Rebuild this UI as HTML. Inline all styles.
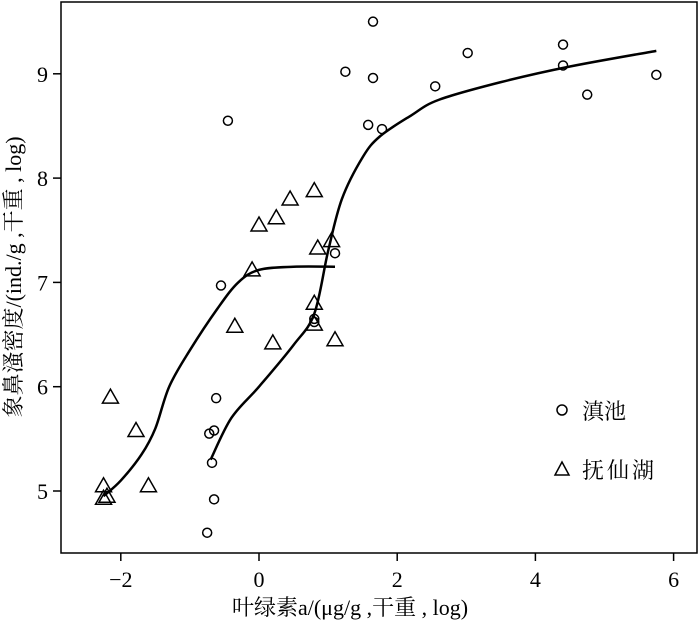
<!DOCTYPE html>
<html><head><meta charset="utf-8"><style>
body{margin:0;background:#fff}
svg text{font-family:"Liberation Serif","Noto Serif CJK SC",serif;fill:#000}
</style></head><body>
<svg width="700" height="625" viewBox="0 0 700 625" xmlns="http://www.w3.org/2000/svg">
<rect x="61" y="2" width="636" height="551" fill="none" stroke="#000" stroke-width="1.5"/>
<g id="axes"></g>
<g id="marks"></g>
<text x="350" y="615" font-size="22" text-anchor="middle">叶绿素a/(μg/g ,干重 , log)</text>
<text transform="translate(21,277) rotate(-90)" font-size="22" text-anchor="middle">象鼻溞密度/(ind./g ,干重 , log)</text>
<g>
<circle cx="562" cy="410" r="5" fill="none" stroke="#000" stroke-width="1.5"/>
<text x="582" y="419" font-size="22">滇池</text>
<path d="M555,475 L569,475 L562,462 Z" fill="none" stroke="#000" stroke-width="1.5"/>
<text x="582" y="478" font-size="22" letter-spacing="3">抚仙湖</text>
</g>
</svg>
<script>
const xTicks=[-2,0,2,4,6];
const yTicks=[5,6,7,8,9];
const dianchiX=[-0.75,-0.65,-0.68,-0.72,-0.65,-0.62,-0.55,-0.45,0.8,0.8,1.1,1.25,1.58,1.65,1.65,1.78,2.55,3.02,4.4,4.4,4.75,5.75];
const dianchiY=[4.6,4.92,5.27,5.55,5.58,5.89,6.97,8.55,6.62,6.65,7.28,9.02,8.51,9.5,8.96,8.47,8.88,9.2,9.28,9.08,8.8,8.99];
const fuxianX=[-2.25,-2.25,-2.2,-2.15,-1.78,-1.6,-0.1,0,-0.35,0.2,0.25,0.45,0.8,0.8,0.8,0.85,1.05,1.1];
const fuxianY=[5.05,4.93,4.95,5.9,5.58,5.05,7.12,7.55,6.58,6.42,7.62,7.8,7.88,6.8,6.6,7.33,7.4,6.45];
const fitFuxianX=[-2.25,-2.0,-1.7,-1.5,-1.3,-1.0,-0.6,-0.3,0,0.5,1.1];
const fitFuxianY=[4.95,5.1,5.35,5.6,6.0,6.35,6.75,7.0,7.12,7.15,7.15];
const fitDianchiX=[-0.7,-0.4,0,0.5,0.8,1.0,1.2,1.5,1.75,2.2,2.6,3.5,4.5,5.75];
const fitDianchiY=[5.3,5.7,6.0,6.4,6.7,7.3,7.8,8.2,8.4,8.6,8.75,8.92,9.07,9.22];
const sx=v=>259+69.1*v;
const sy=v=>491-104.3*(v-5);
const NS="http://www.w3.org/2000/svg";
function mk(t,a,parent){const e=document.createElementNS(NS,t);for(const k in a)e.setAttribute(k,a[k]);parent.appendChild(e);return e;}
const axes=document.getElementById('axes'),marks=document.getElementById('marks');
xTicks.forEach(v=>{
 const l=mk('line',{x1:sx(v),x2:sx(v),y1:553,y2:561,stroke:'#000','stroke-width':1.5},axes);
 
 
 const t=mk('text',{x:sx(v),y:587,'font-size':22,'text-anchor':'middle'},axes);
 t.textContent=v<0?'\u2212'+Math.abs(v):v;
 
 
});
yTicks.forEach(v=>{
 const l=mk('line',{x1:53,x2:61,y1:sy(v),y2:sy(v),stroke:'#000','stroke-width':1.5},axes);
 
 
 const t=mk('text',{x:48,y:sy(v)+8,'font-size':22,'text-anchor':'end'},axes);
 t.textContent=v;
 
 
});
function curve(xs,ys,name){
 const P=xs.map((x,i)=>[sx(x),sy(ys[i])]);
 let d='M'+P[0][0]+','+P[0][1];
 for(let i=0;i<P.length-1;i++){
  const p0=P[Math.max(0,i-1)],p1=P[i],p2=P[i+1],p3=P[Math.min(P.length-1,i+2)];
  const c1=[p1[0]+(p2[0]-p0[0])/6,p1[1]+(p2[1]-p0[1])/6];
  const c2=[p2[0]-(p3[0]-p1[0])/6,p2[1]-(p3[1]-p1[1])/6];
  d+=` C${c1[0]},${c1[1]} ${c2[0]},${c2[1]} ${p2[0]},${p2[1]}`;
 }
 const p=mk('path',{d:d,fill:'none',stroke:'#000','stroke-width':2.5,'stroke-linejoin':'round'},marks);
 
 
}
curve(fitFuxianX,fitFuxianY,'fit-line-fuxianhu');
curve(fitDianchiX,fitDianchiY,'fit-line-dianchi');
dianchiX.forEach((x,i)=>{
 const c=mk('circle',{cx:sx(x),cy:sy(dianchiY[i]),r:4.5,fill:'none',stroke:'#000','stroke-width':1.5},marks);
 
 
});
fuxianX.forEach((x,i)=>{
 const cx=sx(x),cy=sy(fuxianY[i]);
 const p=mk('path',{d:`M${cx-8},${cy+6} L${cx+8},${cy+6} L${cx},${cy-8} Z`,fill:'none',stroke:'#000','stroke-width':1.5},marks);
 
 
});
</script>
</body></html>
